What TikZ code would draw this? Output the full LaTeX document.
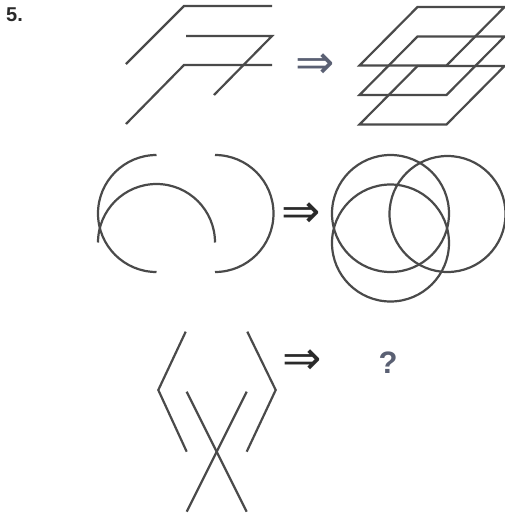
\documentclass[tikz,border=0pt]{standalone}
\usepackage{fontspec}
\setmainfont{Liberation Sans}
\newfontfamily\arrowfont{DejaVu Sans}
\definecolor{linegray}{HTML}{4A4A4A}
\definecolor{bluegray}{HTML}{5A6073}
\definecolor{darkarrow}{HTML}{2A2A2A}
\begin{document}
\begin{tikzpicture}[x=1pt,y=-1pt,
  fig/.style={draw=linegray,line width=2.2pt,line cap=butt,line join=miter},
  implies/.style={inner sep=0pt,font=\arrowfont\fontsize{47}{47}\selectfont},
  qmark/.style={inner sep=0pt,text=bluegray,font=\bfseries\fontsize{31}{31}\selectfont}]
\useasboundingbox (0,0) rectangle (505,517);
% label
\node[anchor=base west,inner sep=0pt,font=\bfseries\fontsize{20}{20}\selectfont,text=darkarrow] (num) at (6,21.7) {5.};
% row 1 left
\draw[fig] (126,64) -- (184,6) -- (272,6);
\draw[fig] (186,36) -- (272,36) -- (214,95);
\draw[fig] (126,124) -- (184,65) -- (272,65);
% row 1 right
\foreach \yy in {7,36.5,66}{
  \draw[fig] (417.5,\yy) -- (504.5,\yy) -- (446.5,\yy+58.5) -- (359.5,\yy+58.5) -- cycle;
}
\node[implies,text=bluegray] (ar1) at (315.5,66) {⇒};
% row 2 left
\draw[fig] ([shift={(270:58.5)}]156.5,213.5) arc[start angle=270,end angle=90,radius=58.5];
\draw[fig] ([shift={(270:58.5)}]215,213.5) arc[start angle=270,end angle=450,radius=58.5];
\draw[fig] ([shift={(0:58.5)}]156.5,242.5) arc[start angle=0,end angle=-180,radius=58.5];
% row 2 right
\draw[fig] (390.5,213.5) circle[radius=58.5];
\draw[fig] (447.5,214) circle[radius=58];
\draw[fig] (390.5,243) circle[radius=58.5];
\node[implies,text=darkarrow] (ar2) at (301.5,215) {⇒};
% row 3 left
\draw[fig] (185.7,331.7) -- (158.3,390) -- (186.7,451.7);
\draw[fig] (247.3,331.7) -- (275.7,390) -- (246.7,451.7);
\draw[fig] (186.7,391.7) -- (246.7,511.7);
\draw[fig] (246.7,391.7) -- (186.7,511.7);
\node[implies,text=darkarrow] (ar3) at (302.5,362) {⇒};
\node[qmark] (q) at (388,363) {?};
\end{tikzpicture}
\end{document}
